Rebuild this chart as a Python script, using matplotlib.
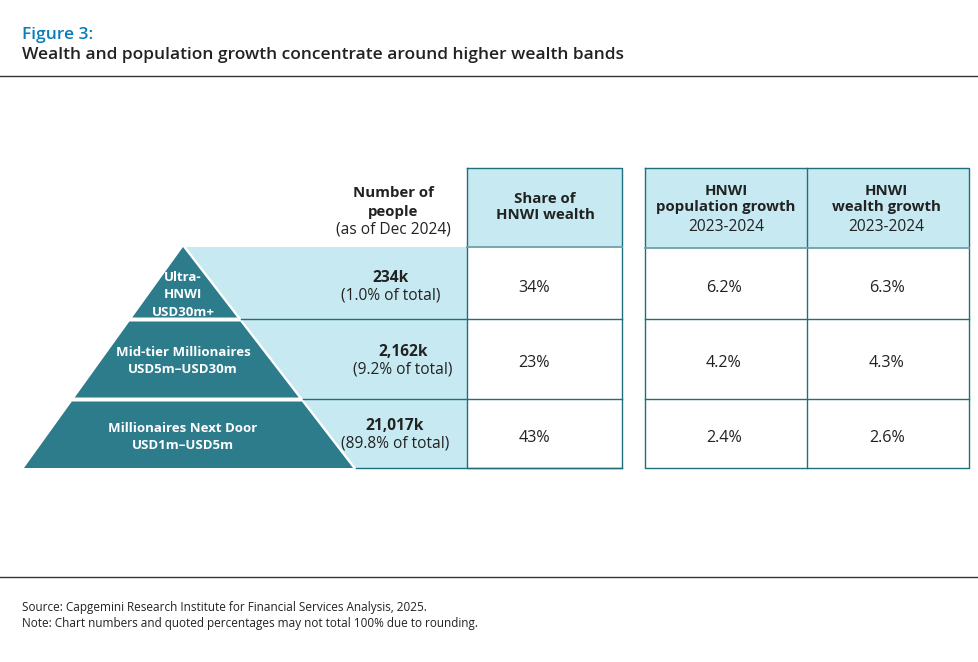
import matplotlib
matplotlib.use("Agg")
import matplotlib.pyplot as plt
from matplotlib.patches import Polygon, Rectangle

# ---------------- data ----------------
tier_names = ["Ultra-\nHNWI\nUSD30m+", "Mid-tier Millionaires\nUSD5m\u2013USD30m",
              "Millionaires Next Door\nUSD1m\u2013USD5m"]
people_k = ["234k", "2,162k", "21,017k"]
people_pct = ["(1.0% of total)", "(9.2% of total)", "(89.8% of total)"]
wealth_share = ["34%", "23%", "43%"]
pop_growth = ["6.2%", "4.2%", "2.4%"]
wealth_growth = ["6.3%", "4.3%", "2.6%"]
col_headers = ["Share of\nHNWI wealth", "HNWI\npopulation growth", "HNWI\nwealth growth"]
period = "2023-2024"

# ---------------- style ----------------
FONT = ["Open Sans", "DejaVu Sans"]
plt.rcParams['font.family'] = FONT
TEAL = "#2C7C8C"
LINE = "#1F6F7C"
BAND = "#C7E9F2"
DARK = "#222222"
BLUE = "#0A7DB8"
HB = 10.8   # bold header size
RT = 11.2   # regular text size
VS = 11.6   # value size

W, H = 979, 662
fig = plt.figure(figsize=(W / 100, H / 100), dpi=100)
ax = fig.add_axes([0, 0, 1, 1])
ax.set_xlim(0, W)
ax.set_ylim(H, 0)
ax.axis("off")

# titles
ax.text(22, 35, "Figure 3:", color=BLUE, fontsize=12.5, fontweight="semibold", va="center", ha="left")
ax.text(22, 55, "Wealth and population growth concentrate around higher wealth bands",
        color=DARK, fontsize=12.5, fontweight="semibold", va="center", ha="left")
ax.plot([0, W], [76, 76], color="#333333", lw=1.0)
ax.plot([0, W], [577, 577], color="#333333", lw=1.0)
ax.text(22, 607, "Source: Capgemini Research Institute for Financial Services Analysis, 2025.",
        color=DARK, fontsize=8.45, va="center", ha="left")
ax.text(22, 624, "Note: Chart numbers and quoted percentages may not total 100% due to rounding.",
        color=DARK, fontsize=8.45, va="center", ha="left")

# layout of rows
apex_x, apex_y = 183, 247
base_y = 468
base_l, base_r = 24, 353
row_bounds = [(247, 319), (320, 399), (400, 468)]
share_l, share_r = 467, 622
tab_l, tab_m, tab_r = 645, 807, 969
head_top, head_bot = 168, 247


def xl(y):
    return apex_x - (apex_x - base_l) * (y - apex_y) / (base_y - apex_y)


def xr(y):
    return apex_x + (base_r - apex_x) * (y - apex_y) / (base_y - apex_y)


# light band behind "number of people"
ax.add_patch(Polygon([(apex_x + 3, apex_y), (share_l, apex_y), (share_l, base_y),
                      (base_r + 3, base_y)], closed=True, fc=BAND, ec="none"))

# pyramid tiers
gap = 1.5
for i, (t, b) in enumerate(row_bounds):
    tt = t + (gap if i > 0 else 0)
    bb = b - (gap if i < 2 else 0)
    pts = [(xl(tt), tt), (xr(tt), tt), (xr(bb), bb), (xl(bb), bb)]
    ax.add_patch(Polygon(pts, closed=True, fc=TEAL, ec="none"))

# row separator lines across band and share column
for i, (t, b) in enumerate(row_bounds):
    ax.plot([xr(b) + 3, share_r], [b, b], color=LINE, lw=1.0)

# share column
ax.add_patch(Rectangle((share_l, head_top), share_r - share_l, head_bot - head_top,
                       fc=BAND, ec="none"))
ax.plot([share_l, share_r, share_r, share_l, share_l],
        [head_top, head_top, base_y, base_y, head_top], color=LINE, lw=1.0)
ax.plot([share_l, share_r], [head_bot, head_bot], color="#6E9FA8", lw=1.3)

# right table
ax.add_patch(Rectangle((tab_l, head_top), tab_r - tab_l, head_bot + 1 - head_top,
                       fc=BAND, ec="none"))
ax.plot([tab_l, tab_r, tab_r, tab_l, tab_l],
        [head_top, head_top, base_y, base_y, head_top], color=LINE, lw=1.0)
ax.plot([tab_m, tab_m], [head_top, base_y], color=LINE, lw=1.0)
ax.plot([tab_l, tab_r], [head_bot + 1, head_bot + 1], color="#6E9FA8", lw=1.3)
for (t, b) in row_bounds[:2]:
    ax.plot([tab_l, tab_r], [b, b], color=LINE, lw=1.0)

# header texts
ax.text(393, 193, "Number of", fontsize=HB, fontweight="bold", color=DARK, ha="center", va="center")
ax.text(393, 212, "people", fontsize=HB, fontweight="bold", color=DARK, ha="center", va="center")
ax.text(393, 229, "(as of Dec 2024)", fontsize=RT, color=DARK, ha="center", va="center")

ax.text(545, 207, col_headers[0], fontsize=HB, fontweight="bold", color=DARK,
        ha="center", va="center", linespacing=1.25)
for cx, hdr in zip([726, 886], col_headers[1:]):
    ax.text(cx, 199, hdr, fontsize=HB, fontweight="bold", color=DARK,
            ha="center", va="center", linespacing=1.15)
    ax.text(cx, 227, period, fontsize=RT, color=DARK, ha="center", va="center")

# pyramid labels
label_y = [295, 361, 437]
label_ls = [1.42, 1.38, 1.38]
for name, y, ls in zip(tier_names, label_y, label_ls):
    ax.text(183, y, name, fontsize=9.5, fontweight="bold", color="white",
            ha="center", va="center", linespacing=ls)

# values
num_x = [391, 403, 395]
num_y = [(278, 295), (352, 370), (426, 444)]
for i in range(3):
    ax.text(num_x[i], num_y[i][0], people_k[i], fontsize=HB + 0.4, fontweight="bold",
            color=DARK, ha="center", va="center")
    ax.text(num_x[i], num_y[i][1], people_pct[i], fontsize=RT,
            color=DARK, ha="center", va="center")

val_y = [288, 363, 438]
for i in range(3):
    ax.text(534, val_y[i], wealth_share[i], fontsize=VS, color=DARK, ha="center", va="center")
    ax.text(724, val_y[i], pop_growth[i], fontsize=VS, color=DARK, ha="center", va="center")
    ax.text(887, val_y[i], wealth_growth[i], fontsize=VS, color=DARK, ha="center", va="center")

fig.savefig("out.png", dpi=100)
